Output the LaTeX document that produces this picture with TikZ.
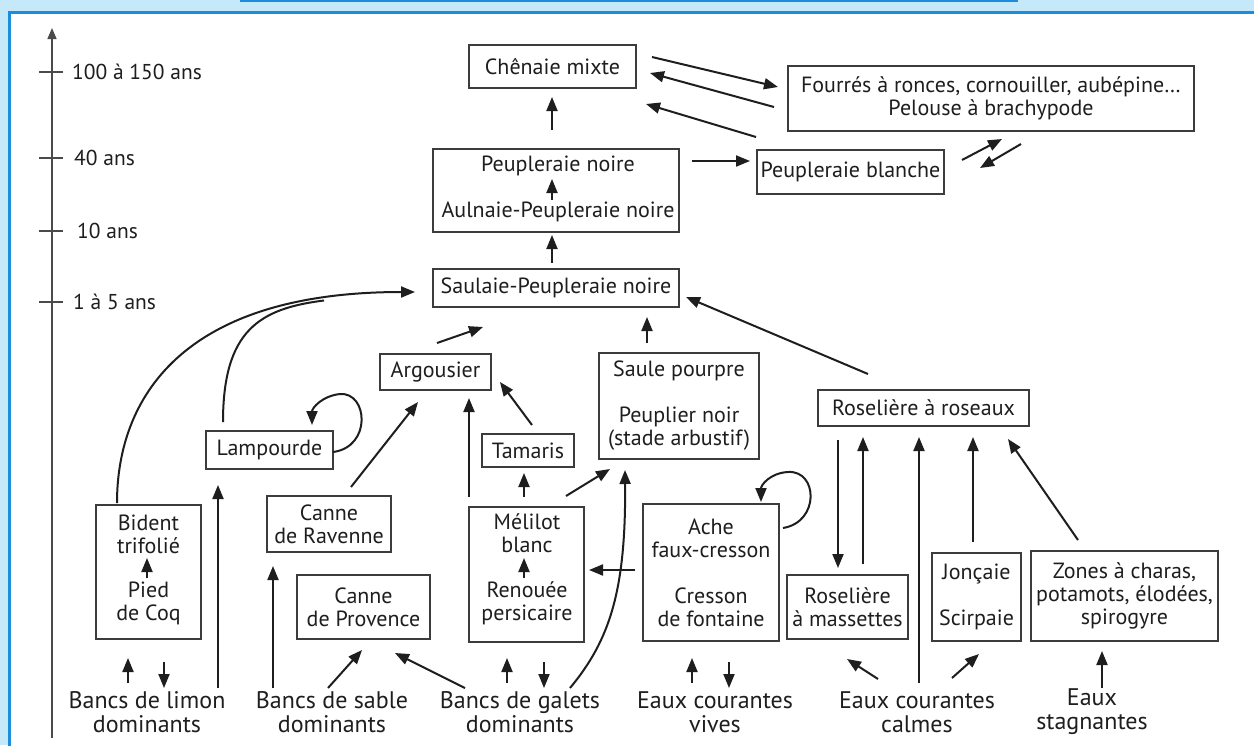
\documentclass[tikz,border=0pt]{standalone}
\usepackage{fontspec}
\setmainfont{PT Sans}
\usetikzlibrary{arrows.meta,calc}
\definecolor{bgblue}{HTML}{C6E9F9}
\definecolor{lineblue}{HTML}{1B8DDB}
\definecolor{ink}{HTML}{1E1E1E}
\definecolor{boxline}{HTML}{3C3C3C}
\definecolor{axisgray}{HTML}{4A4A4A}
\newcommand\boxfont{\fontsize{22}{23}\selectfont}
\newcommand\bigfont{\fontsize{24}{24}\selectfont}
\newcommand\axfont{\fontsize{21.5}{23}\selectfont}
\begin{document}
\begin{tikzpicture}[x=1pt,y=-1pt,
  box/.style={draw=boxline, line width=1.2pt, inner sep=0pt, align=center, text=ink, font=\boxfont},
  txt/.style={inner sep=0pt, align=center, text=ink, font=\boxfont},
  lbl/.style={inner sep=0pt, align=center, text=ink, font=\bigfont},
  axlbl/.style={inner sep=0pt, anchor=west, text=ink, font=\axfont},
  arr/.style={draw=ink, line width=2pt, -{Triangle[length=14pt,width=11pt]}},
  plain/.style={draw=ink, line width=2pt},
  tick/.style={draw=axisgray, line width=1.5pt}]
\useasboundingbox (0,0) rectangle (1254,745);
% frame
\fill[bgblue] (0,0) rectangle (1254,745);
\fill[white] (9,12) rectangle (1254,745);
\draw[lineblue, line width=3pt] (9,746) -- (9,12) -- (1255,12);
\draw[lineblue, line width=1.5pt] (240,0.75) -- (1018,0.75);
% time axis
\coordinate (axbot) at (52,738);
\coordinate (axtop) at (52,28);
\draw[draw=axisgray, line width=1.5pt, -{Triangle[length=11pt,width=9pt]}] (axbot) -- (axtop);
\foreach \yy in {72,158,231,302} \draw[tick] (39,\yy) -- (63,\yy);
\node[axlbl] (t1) at (72,72) {100 à 150 ans};
\node[axlbl] (t2) at (74,158) {40 ans};
\node[axlbl] (t3) at (77,231) {10 ans};
\node[axlbl] (t4) at (73,302) {1 à 5 ans};
% boxes
\node[box, minimum width=167, minimum height=43] (chen) at (552.5,66.5) {Chênaie mixte};
\node[box, minimum width=406, minimum height=65] (fourr) at (991,98.5) {Fourrés à ronces, cornouiller, aubépine…\\Pelouse à brachypode};
\node[box, minimum width=246, minimum height=83] (peupn) at (556,190.5) {};
\node[txt] (pn1) at (558,166) {Peupleraie noire};
\node[txt] (pn2) at (558,212) {Aulnaie-Peupleraie noire};
\node[box, minimum width=187, minimum height=44] (peupb) at (850.5,172) {Peupleraie blanche};
\node[box, minimum width=246, minimum height=38] (saul) at (556,288) {Saulaie-Peupleraie noire};
\node[box, minimum width=111, minimum height=36] (argo) at (435.5,372) {Argousier};
\node[box, minimum width=160, minimum height=106] (saule) at (679,406) {Saule pourpre\\[23pt]Peuplier noir\\(stade arbustif)};
\node[box, minimum width=211, minimum height=36] (ros) at (923.5,408) {Roselière à roseaux};
\node[box, minimum width=127, minimum height=38] (lamp) at (269.5,450) {Lampourde};
\node[box, minimum width=92, minimum height=33] (tam) at (528,450.5) {Tamaris};
\node[box, minimum width=105, minimum height=134] (bident) at (148.5,572) {};
\node[txt] (bi1) at (148.5,534) {Bident\\trifolié};
\node[txt] (bi2) at (148.5,603.5) {Pied\\de Coq};
\node[box, minimum width=124, minimum height=56] (raven) at (329,524) {Canne\\de Ravenne};
\node[box, minimum width=133, minimum height=64] (prov) at (363.5,607) {Canne\\de Provence};
\node[box, minimum width=115, minimum height=135] (meli) at (526.5,574.5) {};
\node[txt] (me1) at (527,533.5) {Mélilot\\blanc};
\node[txt] (me2) at (527,603.5) {Renouée\\persicaire};
\node[box, minimum width=136, minimum height=137] (ache) at (711,572.5) {Ache\\faux-cresson\\[23pt]Cresson\\de fontaine};
\node[box, minimum width=121, minimum height=64] (mass) at (847.5,607) {Roselière\\à massettes};
\node[box, minimum width=89, minimum height=88] (jonc) at (976.5,597) {Jonçaie\\[23pt]Scirpaie};
\node[box, minimum width=187, minimum height=90] (zones) at (1124.5,596) {Zones à charas,\\potamots, élodées,\\spirogyre};
% bottom labels
\node[lbl] (limon) at (147,712) {Bancs de limon\\dominants};
\node[lbl] (sable) at (332,712) {Bancs de sable\\dominants};
\node[lbl] (galets) at (520,712) {Bancs de galets\\dominants};
\node[lbl] (vives) at (715,712) {Eaux courantes\\vives};
\node[lbl] (calmes) at (917,712) {Eaux courantes\\calmes};
\node[lbl] (stagn) at (1092,712) {Eaux\\stagnantes};
% upper arrows
\draw[arr] ($(peupn)+(-4,-60.5)$) -- ($(chen)+(-0.5,30.5)$);
\draw[arr] ($(saul)+(-4,-25)$) -- ($(peupn)+(-4,44.5)$);
\draw[arr] ($(peupn)+(-4,9.5)$) -- ($(peupn)+(-4,-11.5)$);
\draw[arr] ($(peupn)+(136,-29.5)$) -- ($(peupb)+(-100.5,-11)$);
\draw[arr] ($(chen)+(99.5,-9.5)$) -- ($(fourr)+(-213,-11.5)$);
\draw[arr] ($(fourr)+(-217,8.5)$) -- ($(chen)+(97.5,6.5)$);
\draw[arr] ($(peupb)+(-94.5,-35)$) -- ($(chen)+(93.5,37.5)$);
\draw[arr] ($(peupb)+(111.5,-12)$) -- ($(fourr)+(11,40.5)$);
\draw[arr] ($(fourr)+(30,45.5)$) -- ($(peupb)+(129.5,-4)$);
\draw[arr] ($(argo)+(1.5,-29)$) -- ($(saul)+(-73,39)$);
\draw[arr] ($(saule)+(-32,-63)$) -- ($(saul)+(91,29)$);
\draw[arr] ($(ros)+(-55.5,-34)$) -- ($(saul)+(130,9)$);
% long curves
\draw[arr] ($(bident)+(-31.5,-69)$) .. controls ($(bident)+(-31.5,-172)$) and ($(saul)+(-376,4)$) .. ($(saul)+(-141,4)$);
\coordinate (merge) at (324,300.5);
\draw[plain] ($(lamp)+(-46.5,-28)$) .. controls ($(lamp)+(-46.5,-120)$) and ($(merge)+(-64,8)$) .. (merge);
\draw[arr] ($(lamp)+(63.5,2)$) .. controls ($(lamp)+(102.5,-3)$) and ($(lamp)+(98.5,-58)$) .. ($(lamp)+(70.5,-56)$) .. controls ($(lamp)+(52.5,-54)$) and ($(lamp)+(42.5,-42)$) .. ($(lamp)+(42.5,-25)$);
% left lower arrows
\draw[arr] ($(limon)+(71,-24)$) -- ($(lamp)+(-51.5,35)$);
\draw[arr] ($(sable)+(-59,-24)$) -- ($(raven)+(-56,42)$);
\draw[arr] ($(raven)+(22,-37)$) -- ($(argo)+(-17.5,30)$);
\draw[arr] ($(sable)+(-4,-24)$) -- ($(prov)+(-1.5,43)$);
\draw[arr] ($(galets)+(-55,-24)$) -- ($(prov)+(31.5,46)$);
\draw[arr] ($(meli)+(-57.5,-77.5)$) -- ($(argo)+(33.5,26)$);
\draw[arr] ($(tam)+(4,-25.5)$) -- ($(argo)+(64.5,10)$);
\draw[arr] ($(meli)+(-2.5,-77.5)$) -- ($(tam)+(-4,22.5)$);
\draw[arr] ($(meli)+(39.5,-78.5)$) -- ($(saule)+(-69,63)$);
\draw[arr] ($(galets)+(50,-24)$) .. controls ($(galets)+(90,-72)$) and ($(saule)+(-53,184)$) .. ($(saule)+(-54,64)$);
\draw[arr] ($(meli)+(-2.5,3.5)$) -- ($(meli)+(-2.5,-16.5)$);
\draw[arr] ($(bident)+(-1.5,6)$) -- ($(bident)+(-1.5,-14)$);
\draw[arr] ($(limon)+(-19,-29)$) -- ($(bident)+(-20.5,86)$);
\draw[arr] ($(bident)+(15.5,90)$) -- ($(limon)+(17,-24)$);
\draw[arr] ($(galets)+(-13,-29)$) -- ($(meli)+(-19.5,83.5)$);
\draw[arr] ($(meli)+(17.5,87.5)$) -- ($(galets)+(24,-24)$);
\draw[arr] ($(ache)+(-76,-2.5)$) -- ($(meli)+(62.5,-4.5)$);
\draw[arr] ($(ache)+(72,-44.5)$) .. controls ($(ache)+(109,-50.5)$) and ($(ache)+(107,-102.5)$) .. ($(ache)+(77,-100.5)$) .. controls ($(ache)+(59,-99.5)$) and ($(ache)+(50,-87.5)$) .. ($(ache)+(50,-70.5)$);
\draw[arr] ($(vives)+(-23,-29)$) -- ($(ache)+(-19,85.5)$);
\draw[arr] ($(ache)+(18,89.5)$) -- ($(vives)+(14,-24)$);
% right arrows
\draw[arr] ($(ros)+(-85.5,32)$) -- ($(mass)+(-9.5,-39)$);
\draw[arr] ($(mass)+(15.5,-43)$) -- ($(ros)+(-60.5,29)$);
\draw[arr] ($(calmes)+(2,-29)$) -- ($(ros)+(-4.5,29)$);
\draw[arr] ($(jonc)+(-3.5,-55)$) -- ($(ros)+(49.5,29)$);
\draw[arr] ($(zones)+(-46.5,-56)$) -- ($(ros)+(84.5,31)$);
\draw[arr] ($(calmes)+(-39,-33)$) -- ($(mass)+(-0.5,52)$);
\draw[arr] ($(calmes)+(35,-34)$) -- ($(jonc)+(2.5,57)$);
\draw[arr] ($(stagn)+(10,-24)$) -- ($(zones)+(-22.5,55)$);
\end{tikzpicture}
\end{document}
